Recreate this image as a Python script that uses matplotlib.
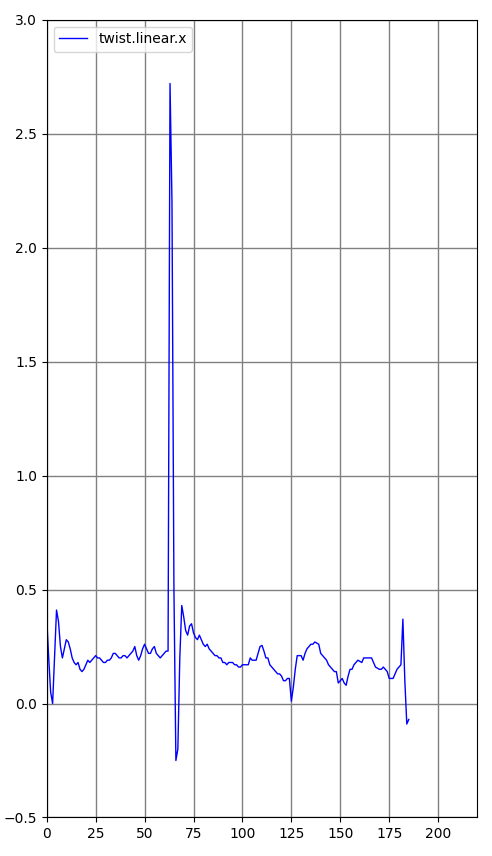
import matplotlib
matplotlib.use('Agg')
import matplotlib.pyplot as plt

# twist.linear.x samples, one per index
linear_x = [
    0.37, 0.20, 0.05, 0.00, 0.20, 0.41, 0.36, 0.25, 0.20, 0.24,
    0.28, 0.27, 0.24, 0.20, 0.18, 0.17, 0.18, 0.15, 0.14, 0.15,
    0.17, 0.19, 0.18, 0.19, 0.20, 0.21, 0.20, 0.20, 0.19, 0.18,
    0.18, 0.19, 0.19, 0.20, 0.22, 0.22, 0.21, 0.20, 0.20, 0.21,
    0.21, 0.20, 0.21, 0.22, 0.23, 0.25, 0.21, 0.19, 0.21, 0.24,
    0.26, 0.24, 0.22, 0.22, 0.24, 0.25, 0.22, 0.21, 0.20, 0.21,
    0.22, 0.23, 0.23, 2.72, 2.20, 0.50, -0.25, -0.20, 0.20, 0.43,
    0.38, 0.32, 0.30, 0.34, 0.35, 0.31, 0.29, 0.28, 0.30, 0.28,
    0.26, 0.25, 0.26, 0.24, 0.23, 0.22, 0.21, 0.21, 0.20, 0.20,
    0.18, 0.18, 0.17, 0.18, 0.18, 0.18, 0.17, 0.17, 0.16, 0.16,
    0.17, 0.17, 0.17, 0.17, 0.20, 0.19, 0.19, 0.19, 0.22, 0.25,
    0.255, 0.23, 0.20, 0.20, 0.17, 0.16, 0.15, 0.14, 0.13, 0.13,
    0.12, 0.10, 0.10, 0.11, 0.11, 0.01, 0.07, 0.15, 0.21, 0.21,
    0.21, 0.19, 0.22, 0.24, 0.25, 0.26, 0.26, 0.27, 0.265, 0.26,
    0.22, 0.21, 0.20, 0.19, 0.17, 0.16, 0.15, 0.14, 0.14, 0.09,
    0.10, 0.11, 0.09, 0.08, 0.12, 0.15, 0.15, 0.17, 0.18, 0.19,
    0.185, 0.18, 0.20, 0.20, 0.20, 0.20, 0.20, 0.18, 0.16, 0.155,
    0.15, 0.15, 0.16, 0.15, 0.14, 0.11, 0.11, 0.11, 0.13, 0.15,
    0.16, 0.17, 0.37, 0.10, -0.09, -0.07,
]
index = list(range(len(linear_x)))

fig, ax = plt.subplots(figsize=(4.92, 8.56), dpi=100)
ax.plot(index, linear_x, color='blue', linewidth=1, label='twist.linear.x')
ax.set_xlim(0, 220)
ax.set_ylim(-0.5, 3.0)
ax.grid(color='gray', linewidth=1)
ax.set_axisbelow(True)
ax.legend(loc='upper left')
fig.subplots_adjust(left=0.095, right=0.97, top=0.977, bottom=0.045)
fig.savefig('out.png')
